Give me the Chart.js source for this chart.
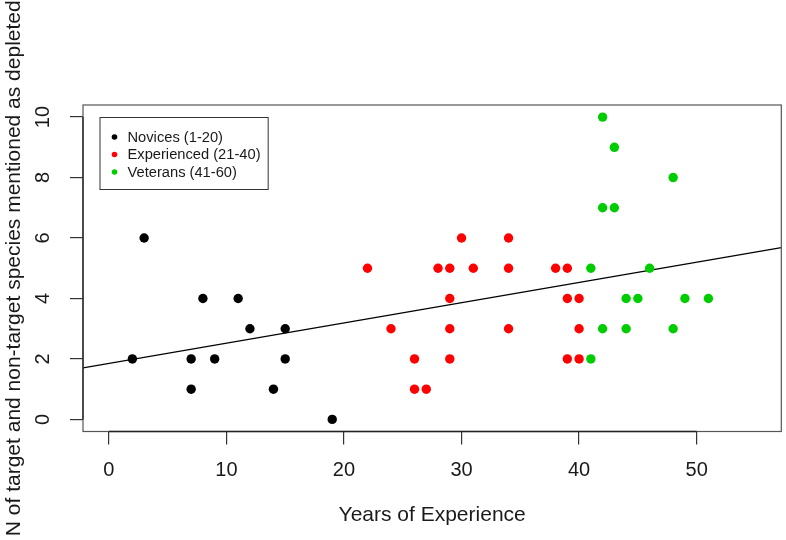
<!DOCTYPE html>
<html><head><meta charset="utf-8">
<script src="https://cdn.jsdelivr.net/npm/chart.js@4.4.1/dist/chart.umd.min.js"></script>
<style>html,body{margin:0;padding:0;background:#fff}#wrap{width:786px;height:540px}</style>
</head><body><div id="wrap"><canvas id="c" width="786" height="540"></canvas></div>
<script>
const seriesLabels = ['Novices (1-20)', 'Experienced (21-40)', 'Veterans (41-60)'];
const seriesColors = ['#000000', '#ff0000', '#00cd00'];
const noviceYears = [2, 3, 7, 7, 8, 9, 11, 12, 14, 15, 15, 19];
const noviceCounts = [2, 6, 2, 1, 4, 2, 4, 3, 1, 3, 2, 0];
const experiencedYears = [22, 24, 26, 26, 27, 28, 29, 29, 29, 29, 30, 31, 34, 34, 34, 38, 39, 39, 39, 40, 40, 40];
const experiencedCounts = [5, 3, 2, 1, 1, 5, 5, 4, 3, 2, 6, 5, 6, 5, 3, 5, 5, 4, 2, 4, 3, 2];
const veteranYears = [41, 41, 42, 42, 42, 43, 43, 44, 44, 45, 46, 48, 48, 49, 51];
const veteranCounts = [5, 2, 10, 7, 3, 9, 7, 4, 3, 4, 5, 8, 3, 4, 4];
const xTicks = [0, 10, 20, 30, 40, 50];
const yTicks = [0, 2, 4, 6, 8, 10];
const xRange = [-2.2, 57.2];
const yRange = [-0.4, 10.4];
const fitIntercept = 1.85;
const fitSlope = 0.067;
const xTitle = 'Years of Experience';
const yTitle = 'N of target and non-target species mentioned as depleted';

const FONT = "'Liberation Sans', Arial, sans-serif";
const TXT = '#1a1a1a';

function pts(xs, ys) { return xs.map((x, i) => ({ x: x, y: ys[i] })); }

const groups = [pts(noviceYears, noviceCounts), pts(experiencedYears, experiencedCounts), pts(veteranYears, veteranCounts)];
const datasets = groups.map((d, i) => ({
  type: 'scatter',
  label: seriesLabels[i],
  data: d,
  backgroundColor: seriesColors[i],
  borderColor: seriesColors[i],
  borderWidth: 0,
  pointRadius: 4.7,
  pointHoverRadius: 4.7
}));
datasets.push({
  type: 'line',
  label: 'fit',
  data: xRange.map(x => ({ x: x, y: fitIntercept + fitSlope * x })),
  borderColor: '#000',
  borderWidth: 1.3,
  pointRadius: 0,
  fill: false,
  tension: 0
});

const boxPlugin = {
  id: 'rbox',
  afterDraw(chart) {
    const { ctx, chartArea: a, scales } = chart;
    ctx.save();
    ctx.strokeStyle = '#555';
    ctx.lineWidth = 1.2;
    ctx.strokeRect(a.left, a.top, a.right - a.left, a.bottom - a.top);
    // R-style axis lines spanning first..last tick
    ctx.strokeStyle = '#222';
    ctx.lineWidth = 1.3;
    ctx.beginPath();
    ctx.moveTo(scales.x.getPixelForValue(xTicks[0]), a.bottom);
    ctx.lineTo(scales.x.getPixelForValue(xTicks[xTicks.length - 1]), a.bottom);
    ctx.moveTo(a.left, scales.y.getPixelForValue(yTicks[0]));
    ctx.lineTo(a.left, scales.y.getPixelForValue(yTicks[yTicks.length - 1]));
    ctx.stroke();
    // legend
    const lx = a.left + 16.5, ly = a.top + 12;
    ctx.font = "14.7px " + FONT;
    let w = 0;
    seriesLabels.forEach(t => { w = Math.max(w, ctx.measureText(t).width); });
    const bw = 27.6 + w + 7.5, bh = 72;
    ctx.fillStyle = '#fff';
    ctx.fillRect(lx, ly, bw, bh);
    ctx.lineWidth = 1;
    ctx.strokeStyle = '#333';
    ctx.strokeRect(lx + 0.5, ly + 0.5, bw, bh);
    ctx.textBaseline = 'middle';
    ctx.textAlign = 'left';
    seriesLabels.forEach((t, i) => {
      const y = ly + 20 + i * 17.5;
      ctx.beginPath();
      ctx.fillStyle = seriesColors[i];
      ctx.arc(lx + 15, y, 2.8, 0, Math.PI * 2);
      ctx.fill();
      ctx.fillStyle = TXT;
      ctx.fillText(t, lx + 28, y + 0.5);
    });
    ctx.restore();
  }
};

new Chart(document.getElementById('c'), {
  data: { datasets: datasets },
  options: {
    responsive: false,
    animation: false,
    devicePixelRatio: 1,
    layout: { padding: { top: 105, right: 3, left: 0, bottom: 0 } },
    plugins: { legend: { display: false }, tooltip: { enabled: false } },
    scales: {
      x: {
        type: 'linear',
        min: xRange[0], max: xRange[1],
        afterBuildTicks: s => { s.ticks = xTicks.map(v => ({ value: v })); },
        afterFit: s => { s.height = 108.5; },
        grid: { drawOnChartArea: false, drawTicks: true, tickLength: 13, color: '#333', lineWidth: 1.2 },
        border: { display: false },
        ticks: { font: { family: FONT, size: 20 }, color: TXT, padding: 14, maxRotation: 0, autoSkip: false },
        title: { display: true, text: xTitle, font: { family: FONT, size: 21 }, color: TXT, padding: { top: 0, bottom: 12.4 } }
      },
      y: {
        type: 'linear',
        min: yRange[0], max: yRange[1],
        afterBuildTicks: s => { s.ticks = yTicks.map(v => ({ value: v })); },
        afterFit: s => { s.width = 83; },
        grid: { drawOnChartArea: false, drawTicks: true, tickLength: 13, color: '#333', lineWidth: 1.2 },
        border: { display: false },
        ticks: { font: { family: FONT, size: 20 }, color: TXT, padding: 15, minRotation: 90, maxRotation: 90, crossAlign: 'center', autoSkip: false },
        title: { display: true, text: yTitle, font: { family: FONT, size: 21 }, color: TXT, padding: { top: 1.8, bottom: 0 } }
      }
    }
  },
  plugins: [boxPlugin]
});
</script>
</body></html>
